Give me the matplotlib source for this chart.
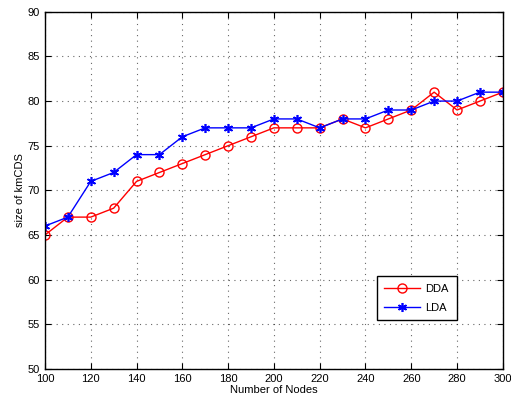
import matplotlib
matplotlib.use("Agg")
import matplotlib.pyplot as plt

plt.rcParams['font.family'] = ['Liberation Sans', 'DejaVu Sans']

# Data
nodes = [100, 110, 120, 130, 140, 150, 160, 170, 180, 190, 200,
         210, 220, 230, 240, 250, 260, 270, 280, 290, 300]
dda = [65, 67, 67, 68, 71, 72, 73, 74, 75, 76, 77,
       77, 77, 78, 77, 78, 79, 81, 79, 80, 81]
lda = [66, 67, 71, 72, 74, 74, 76, 77, 77, 77, 78,
       78, 77, 78, 78, 79, 79, 80, 80, 81, 81]

fig = plt.figure(figsize=(5.11, 4.08), dpi=100)
ax = fig.add_axes([0.088, 0.096, 0.896, 0.875])

ax.plot(nodes, dda, color='red', marker='o', markersize=6.5, markerfacecolor='none',
        markeredgecolor='red', markeredgewidth=1, linewidth=1, label='DDA')
ax.plot(nodes, lda, color='blue', marker=(6, 2, 0), markersize=6.5,
        markeredgewidth=1.2, linewidth=1, label='LDA')

ax.set_xlim(100, 300)
ax.set_ylim(50, 90)
ax.set_xticks(range(100, 301, 20))
ax.set_yticks(range(50, 91, 5))
ax.grid(True, linestyle=(0, (1, 4)), color='black', linewidth=0.8, alpha=0.6)
ax.tick_params(direction='in', labelsize=8, length=4, top=True, right=True)
for s in ax.spines.values():
    s.set_linewidth(1)

ax.set_xlabel("Number of Nodes", fontsize=8, labelpad=1)
ax.set_ylabel("size of kmCDS", fontsize=8, labelpad=2)

leg = ax.legend(loc='lower left', bbox_to_anchor=(0.712, 0.12), fontsize=8,
                fancybox=False, framealpha=1, edgecolor='black',
                handlelength=3.2, handletextpad=0.5, borderpad=0.7, labelspacing=0.8)
leg.get_frame().set_linewidth(1)

plt.savefig("out.png", dpi=100)
